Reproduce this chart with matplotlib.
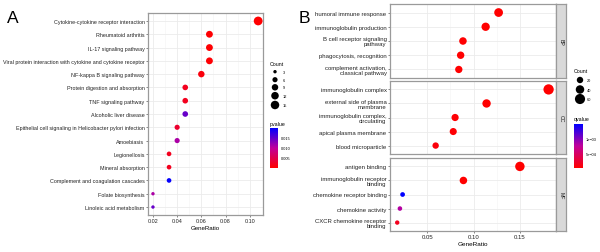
import matplotlib
matplotlib.use("Agg")
import matplotlib.pyplot as plt
from matplotlib.colors import LinearSegmentedColormap, Normalize
import numpy as np

plt.rcParams['font.family'] = ['Liberation Sans', 'DejaVu Sans']

# ---- panel A data (KEGG) ----
a_terms = ['Cytokine-cytokine receptor interaction', 'Rheumatoid arthritis',
           'IL-17 signaling pathway',
           'Viral protein interaction with cytokine and cytokine receptor',
           'NF-kappa B signaling pathway', 'Protein digestion and absorption',
           'TNF signaling pathway', 'Alcoholic liver disease',
           'Epithelial cell signaling in Helicobacter pylori infection',
           'Amoebiasis', 'Legionellosis', 'Mineral absorption',
           'Complement and coagulation cascades', 'Folate biosynthesis',
           'Linoleic acid metabolism']
a_ratio = [0.107, 0.0667, 0.0667, 0.0667, 0.060, 0.0467, 0.0467, 0.0467,
           0.040, 0.040, 0.0333, 0.0333, 0.0333, 0.020, 0.020]
a_count = [16, 10, 10, 10, 9, 7, 7, 7, 6, 6, 5, 5, 5, 3, 3]
a_pval = [0.0001, 0.0002, 0.0002, 0.0003, 0.0008, 0.002, 0.002, 0.0145,
          0.003, 0.011, 0.002, 0.002, 0.0195, 0.011, 0.0145]
a_size_legend = [3, 6, 9, 12, 15]
a_xticks = [0.02, 0.04, 0.06, 0.08, 0.10]
a_cbticks = [0.005, 0.010, 0.015]

# ---- panel B data (GO) ----
b_groups = ['BP', 'CC', 'MF']
b_terms = {
    'BP': ['humoral immune response', 'immunoglobulin production',
           'B cell receptor signaling\npathway', 'phagocytosis, recognition',
           'complement activation,\nclassical pathway'],
    'CC': ['immunoglobulin complex', 'external side of plasma\nmembrane',
           'immunoglobulin complex,\ncirculating', 'apical plasma membrane',
           'blood microparticle'],
    'MF': ['antigen binding', 'immunoglobulin receptor\nbinding',
           'chemokine receptor binding', 'chemokine activity',
           'CXCR chemokine receptor\nbinding'],
}
b_ratio = {'BP': [0.127, 0.113, 0.0885, 0.086, 0.084],
           'CC': [0.181, 0.114, 0.080, 0.078, 0.059],
           'MF': [0.150, 0.089, 0.0233, 0.0204, 0.0175]}
b_count = {'BP': [43, 38, 30, 29, 28],
           'CC': [62, 39, 27, 26, 20],
           'MF': [51, 30, 8, 7, 6]}
b_qval = {'BP': [1e-6, 2e-6, 1e-5, 1e-5, 1e-5],
          'CC': [1e-8, 1e-6, 2e-5, 2e-5, 5e-5],
          'MF': [1e-8, 2e-6, 1.5e-3, 8e-4, 1.5e-4]}
b_size_legend = [20, 40, 60]
b_xticks = [0.05, 0.10, 0.15]
b_cbticks = [5e-4, 1e-3]

cmap = LinearSegmentedColormap.from_list('rb', ['#FF0000', '#C1009A', '#0000FF'])
W, H = 600, 253
fig = plt.figure(figsize=(6, 2.53), dpi=100)

# overlay in pixel coords for legend keys and panel letters
ov = fig.add_axes([0, 0, 1, 1])
ov.set_xlim(0, W)
ov.set_ylim(H, 0)
ov.axis('off')


def fr(x0, y0, x1, y1):
    # pixel box (top-left origin) -> figure fraction rect
    return [x0 / W, 1 - y1 / H, (x1 - x0) / W, (y1 - y0) / H]


def sz(c, cmin, cmax, smin, smax):
    c = np.asarray(c, float)
    return smin + (c - cmin) / (cmax - cmin) * (smax - smin)


def style(ax, xlim, xticks, fs):
    ax.set_xlim(*xlim)
    ax.set_xticks(xticks)
    minor = [(a + b) / 2 for a, b in zip(xticks[:-1], xticks[1:])]
    ax.set_xticks(minor, minor=True)
    ax.grid(True, which='major', color='#EBEBEB', lw=0.6)
    ax.grid(True, which='minor', axis='x', color='#F3F3F3', lw=0.4)
    ax.set_axisbelow(True)
    for s in ax.spines.values():
        s.set_color('#9A9A9A')
        s.set_linewidth(0.9)
    ax.tick_params(which='major', length=1.5, width=0.5, color='#555555',
                   labelsize=fs, pad=1, labelcolor='#222222')
    ax.tick_params(which='minor', length=0)


# ---- panel A ----
ax = fig.add_axes(fr(148, 14, 263, 216))
n = len(a_terms)
ys = np.arange(n)[::-1] + 1
normA = Normalize(0.0, 0.0198)
ax.scatter(a_ratio, ys, s=sz(a_count, 3, 16, 6, 40), c=a_pval, cmap=cmap,
           norm=normA, edgecolors='none', zorder=3)
ax.set_ylim(0.4, n + 0.6)
ax.set_yticks(ys)
ax.set_yticklabels(a_terms)
style(ax, (0.0159, 0.111), a_xticks, 3.85)
ax.set_xticklabels(['0.02', '0.04', '0.06', '0.08', '0.10'])
ax.set_xlabel('GeneRatio', fontsize=4.4, labelpad=1)
ov.text(7, 18, 'A', fontsize=12.5, va='center')

# legend A: size
ov.text(270, 64, 'Count', fontsize=3.8, va='center')
leg_y = [72.7, 80.7, 88.3, 96.7, 106]
ov.scatter([275] * len(a_size_legend), leg_y, s=sz(a_size_legend, 3, 16, 6, 40),
           color='black', edgecolors='none')
for c, yy in zip(a_size_legend, leg_y):
    ov.text(283, yy, str(c), fontsize=2.8, va='center')
ov.text(270, 124.5, 'pvalue', fontsize=3.8, va='center')
cax = fig.add_axes(fr(270, 129, 278, 169))
cb = fig.colorbar(plt.cm.ScalarMappable(norm=normA, cmap=cmap), cax=cax)
cb.set_ticks(a_cbticks)
cb.set_ticklabels(['0.005', '0.010', '0.015'])
cb.outline.set_visible(False)
cax.tick_params(length=1.2, width=0.4, color='white', labelsize=2.8, pad=1)

# ---- panel B ----
normB = Normalize(0.0, 1.5e-3)
boxes = {'BP': (5, 79), 'CC': (82, 155), 'MF': (159, 232)}
for g in b_groups:
    y0, y1 = boxes[g]
    ax = fig.add_axes(fr(390, y0, 556, y1))
    ys = np.arange(5)[::-1] + 1
    ax.scatter(b_ratio[g], ys, s=sz(b_count[g], 6, 62, 10, 55), c=b_qval[g],
               cmap=cmap, norm=normB, edgecolors='none', zorder=3)
    ax.set_ylim(0.4, 5.6)
    ax.set_yticks(ys)
    ax.set_yticklabels(b_terms[g], linespacing=0.95)
    style(ax, (0.0097, 0.189), b_xticks, 4.35)
    if g == 'MF':
        ax.set_xticklabels(['0.05', '0.10', '0.15'])
        ax.set_xlabel('GeneRatio', fontsize=4.6, labelpad=1)
    else:
        ax.set_xticklabels([])
        ax.tick_params(axis='x', length=0)
    sax = fig.add_axes(fr(556, y0, 566, y1))
    sax.set_facecolor('#D9D9D9')
    sax.set_xticks([])
    sax.set_yticks([])
    for s in sax.spines.values():
        s.set_color('#9A9A9A')
        s.set_linewidth(0.9)
    sax.text(0.5, 0.5, g, rotation=270, ha='center', va='center',
             fontsize=3.8, color='#1A1A1A', transform=sax.transAxes)
ov.text(299, 18, 'B', fontsize=12.5, va='center')

# legend B
ov.text(574, 71.5, 'Count', fontsize=3.8, va='center')
leg_y = [81, 90.5, 100]
ov.scatter([580] * len(b_size_legend), leg_y, s=sz(b_size_legend, 6, 62, 10, 55),
           color='black', edgecolors='none')
for c, yy in zip(b_size_legend, leg_y):
    ov.text(587, yy, str(c), fontsize=2.8, va='center')
ov.text(574, 120, 'qvalue', fontsize=3.8, va='center')
cax = fig.add_axes(fr(574, 125, 583, 169))
cb = fig.colorbar(plt.cm.ScalarMappable(norm=normB, cmap=cmap), cax=cax)
cb.set_ticks(b_cbticks)
cb.set_ticklabels(['5e\u221204', '1e\u221203'])
cb.outline.set_visible(False)
cax.tick_params(length=1.2, width=0.4, color='white', labelsize=2.8, pad=1)

fig.savefig('out.png', dpi=100)
